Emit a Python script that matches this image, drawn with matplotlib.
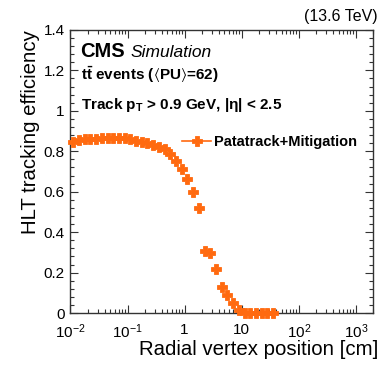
"""
HLT tracking efficiency vs radial vertex position (CMS Simulation style)
"""

from matplotlib import pyplot as plt
from matplotlib.lines import Line2D
import matplotlib.ticker as mticker
import numpy as np

# bin centres in log10(r / cm), 0.1 dex bins
log_r = [-1.95, -1.85, -1.75, -1.65, -1.55, -1.45, -1.35, -1.25, -1.15, -1.05,
         -0.95, -0.85, -0.75, -0.65, -0.55, -0.45, -0.35, -0.25, -0.15, -0.05,
         0.05, 0.15, 0.25, 0.35, 0.45, 0.55, 0.65, 0.75, 0.85, 0.95,
         1.05, 1.15, 1.25, 1.35, 1.45, 1.55]
efficiency = [0.848, 0.856, 0.860, 0.862, 0.863, 0.864, 0.865, 0.866, 0.865, 0.864,
              0.859, 0.852, 0.846, 0.839, 0.831, 0.822, 0.811, 0.788, 0.752, 0.711,
              0.663, 0.600, 0.521, 0.308, 0.295, 0.218, 0.127, 0.089, 0.049, 0.015,
              0.0, 0.0, 0.0, 0.0, 0.0, 0.0]

x_ticks = [1e-2, 1e-1, 1, 10, 1e2, 1e3]
x_ticklabels = ["$10^{-2}$", "$10^{-1}$", "1", "10", "$10^{2}$", "$10^{3}$"]
y_ticks = [0, 0.2, 0.4, 0.6, 0.8, 1.0, 1.2, 1.4]
y_ticklabels = ["0", "0.2", "0.4", "0.6", "0.8", "1", "1.2", "1.4"]

series_label = "Patatrack+Mitigation"
orange = "#ff6a10"

plt.rcParams["font.family"] = ["Liberation Sans", "DejaVu Sans"]
plt.rcParams["mathtext.fontset"] = "custom"
plt.rcParams["mathtext.rm"] = "Liberation Sans"
plt.rcParams["mathtext.it"] = "Liberation Sans:italic"
plt.rcParams["mathtext.bf"] = "Liberation Sans:bold"
plt.rcParams["mathtext.fallback"] = "stixsans"

fig = plt.figure(figsize=(3.89, 3.74), dpi=100)
ax = fig.add_axes([0.181, 0.163, 0.778, 0.757])

log_r = np.array(log_r)
x = 10 ** log_r
x_lo = x - 10 ** (log_r - 0.05)
x_hi = 10 ** (log_r + 0.05) - x
ax.errorbar(x, efficiency, xerr=[x_lo, x_hi], fmt="P", color=orange,
            ms=6.5, mew=0.6, elinewidth=1.2, capsize=0, zorder=5, clip_on=False)

ax.set_xscale("log")
ax.set_xlim(1e-2, 2e3)
ax.set_ylim(0, 1.4)
ax.set_xticks(x_ticks)
ax.set_xticklabels(x_ticklabels)
ax.set_yticks(y_ticks)
ax.set_yticklabels(y_ticklabels)
ax.set_yticks(np.arange(0, 1.4001, 0.04), minor=True)
ax.xaxis.set_minor_locator(mticker.LogLocator(base=10, subs=np.arange(2, 10)))
ax.xaxis.set_minor_formatter(mticker.NullFormatter())
ax.tick_params(which="both", direction="in", top=True, right=True,
               labelsize=11, width=0.8, color="#333333")
ax.tick_params(which="major", length=6, pad=4)
ax.tick_params(which="minor", length=3)
ax.tick_params(axis="x", which="major", pad=7)
for s in ax.spines.values():
    s.set_linewidth(1.0)
    s.set_color("#333333")

ax.set_xlabel("Radial vertex position [cm]", fontsize=14.7, ha="right")
ax.xaxis.set_label_coords(1.018, -0.095)
ax.set_ylabel("HLT tracking efficiency", fontsize=14.7, loc="top", labelpad=3)

fig.text(0.972, 0.935, "(13.6 TeV)", fontsize=11.5, ha="right", va="bottom")
ax.text(0.033, 0.925, "CMS", transform=ax.transAxes, fontsize=14.5,
        fontweight="bold", va="center")
ax.text(0.197, 0.921, "Simulation", transform=ax.transAxes, fontsize=12.5,
        style="italic", va="center")
ax.text(0.035, 0.84, r"t$\mathbf{\bar{t}}$ events ($\langle$PU$\rangle$=62)",
        transform=ax.transAxes, fontsize=11, fontweight="bold", va="center")
ax.text(0.035, 0.735, r"Track p$_{\mathbf{T}}$ > 0.9 GeV, |$\mathbf{\eta}$| < 2.5",
        transform=ax.transAxes, fontsize=11, fontweight="bold", va="center")

handle = Line2D([], [], color=orange, marker="P", ms=6.5, mew=0.6, lw=1.2)
ax.legend([handle], [series_label], loc="upper left", bbox_to_anchor=(0.35, 0.65),
          frameon=False, prop={"weight": "bold", "size": 10.5}, handlelength=2.0,
          handletextpad=0.2, borderaxespad=0)

fig.savefig("out.png", dpi=100)
